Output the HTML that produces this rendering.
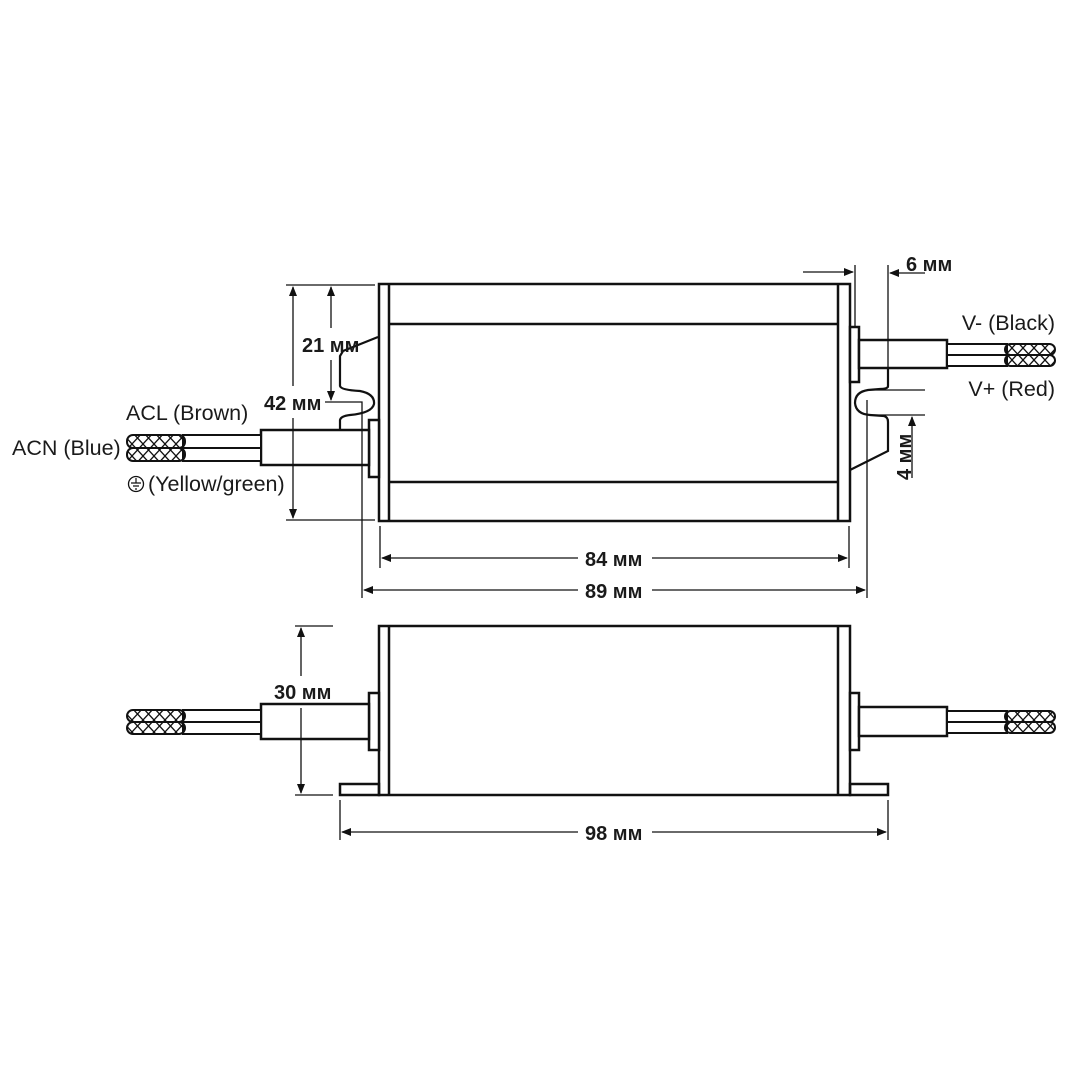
<!DOCTYPE html>
<html><head><meta charset="utf-8"><style>
html,body{margin:0;padding:0;background:#fff}
svg{display:block}
text{font-family:"Liberation Sans",Arial,sans-serif;fill:#1a1a1a}
.b{font-weight:bold;font-size:20px}
.l{font-size:21.5px}
</style></head><body>
<svg width="1080" height="1080" viewBox="0 0 1080 1080" xmlns="http://www.w3.org/2000/svg">
<defs>
<pattern id="x" x="0" y="0" width="11" height="12" patternUnits="userSpaceOnUse">
<path d="M0,0 L11,12 M11,0 L0,12" stroke="#111" stroke-width="1.3"/>
</pattern>
<marker id="a" markerWidth="10" markerHeight="8" refX="9" refY="4" orient="auto" markerUnits="userSpaceOnUse"><path d="M0,0 L10,4 L0,8 z" fill="#111"/></marker>
</defs>
<rect width="1080" height="1080" fill="#fff"/>
<g fill="none" stroke="#111" stroke-width="2.5">
<rect x="379" y="284" width="471" height="237"/>
<line x1="389" y1="284" x2="389" y2="521"/>
<line x1="838" y1="284" x2="838" y2="521"/>
<line x1="389" y1="324" x2="838" y2="324"/>
<line x1="389" y1="482" x2="838" y2="482"/>
<rect x="369" y="420" width="10" height="57" fill="#fff"/>
<rect x="261" y="430" width="108" height="35" fill="#fff"/>
<path d="M378,337 L343,351 L340,356 L340,386 Q341,390 360,391 Q375,394 374,404 Q372,413 350,415 Q341,416 340,420 L340,430" stroke-width="2.2"/>
<rect x="850" y="327" width="9" height="55" fill="#fff"/>
<rect x="859" y="340" width="88" height="28" fill="#fff"/>
<path d="M888,368 L888,386 Q888,389 880,389 L868,390 Q855,392 855,403 Q856,414 870,415 L884,416 Q888,417 888,422 L888,451 L850,470" stroke-width="2.2"/>
<rect x="379" y="626" width="471" height="169"/>
<line x1="389" y1="626" x2="389" y2="795"/>
<line x1="838" y1="626" x2="838" y2="795"/>
<rect x="340" y="784" width="39" height="11"/>
<rect x="850" y="784" width="38" height="11"/>
<rect x="369" y="693" width="10" height="57" fill="#fff"/>
<rect x="261" y="704" width="108" height="35" fill="#fff"/>
<rect x="850" y="693" width="9" height="57" fill="#fff"/>
<rect x="859" y="707" width="88" height="29" fill="#fff"/>
</g>
<g stroke="#111" stroke-width="2" fill="#fff">
<rect x="183" y="435" width="78" height="13"/><rect x="183" y="448" width="78" height="13"/>
<rect x="127" y="435" width="58" height="13" rx="6" fill="url(#x)"/><rect x="127" y="448" width="58" height="13" rx="6" fill="url(#x)"/>
<rect x="183" y="710" width="78" height="12"/><rect x="183" y="722" width="78" height="12"/>
<rect x="127" y="710" width="58" height="12" rx="6" fill="url(#x)"/><rect x="127" y="722" width="58" height="12" rx="6" fill="url(#x)"/>
<rect x="947" y="344" width="60" height="11"/><rect x="947" y="355" width="60" height="11"/>
<rect x="1005" y="344" width="50" height="11" rx="5.5" fill="url(#x)"/><rect x="1005" y="355" width="50" height="11" rx="5.5" fill="url(#x)"/>
<rect x="947" y="711" width="60" height="11"/><rect x="947" y="722" width="60" height="11"/>
<rect x="1005" y="711" width="50" height="11" rx="5.5" fill="url(#x)"/><rect x="1005" y="722" width="50" height="11" rx="5.5" fill="url(#x)"/>
</g>
<g stroke="#111" stroke-width="1.3" fill="none">
<line x1="286" y1="285" x2="375" y2="285"/>
<line x1="286" y1="520" x2="375" y2="520"/>
<line x1="293" y1="386" x2="293" y2="287" marker-end="url(#a)"/>
<line x1="293" y1="418" x2="293" y2="518" marker-end="url(#a)"/>
<line x1="331" y1="328" x2="331" y2="287" marker-end="url(#a)"/>
<line x1="331" y1="360" x2="331" y2="400" marker-end="url(#a)"/>
<polyline points="325,402 362,402 362,598"/>
<line x1="380" y1="526" x2="380" y2="568"/>
<line x1="849" y1="526" x2="849" y2="568"/>
<line x1="867" y1="400" x2="867" y2="598"/>
<line x1="888" y1="265" x2="888" y2="388"/>
<line x1="855" y1="265" x2="855" y2="327"/>
<line x1="578" y1="558" x2="382" y2="558" marker-end="url(#a)"/>
<line x1="652" y1="558" x2="847" y2="558" marker-end="url(#a)"/>
<line x1="578" y1="590" x2="364" y2="590" marker-end="url(#a)"/>
<line x1="652" y1="590" x2="865" y2="590" marker-end="url(#a)"/>
<line x1="803" y1="272" x2="853" y2="272" marker-end="url(#a)"/>
<line x1="925" y1="273" x2="890" y2="273" marker-end="url(#a)"/>
<line x1="867" y1="390" x2="925" y2="390"/>
<line x1="870" y1="415" x2="925" y2="415"/>
<line x1="912" y1="478" x2="912" y2="417" marker-end="url(#a)"/>
<line x1="295" y1="626" x2="333" y2="626"/>
<line x1="295" y1="795" x2="333" y2="795"/>
<line x1="301" y1="676" x2="301" y2="628" marker-end="url(#a)"/>
<line x1="301" y1="708" x2="301" y2="793" marker-end="url(#a)"/>
<line x1="340" y1="800" x2="340" y2="840"/>
<line x1="888" y1="800" x2="888" y2="840"/>
<line x1="578" y1="832" x2="342" y2="832" marker-end="url(#a)"/>
<line x1="652" y1="832" x2="886" y2="832" marker-end="url(#a)"/>
</g>
<text x="302" y="352" class="b">21 мм</text>
<text x="264" y="410" class="b">42 мм</text>
<text x="585" y="566" class="b">84 мм</text>
<text x="585" y="598" class="b">89 мм</text>
<text x="906" y="271" class="b">6 мм</text>
<text x="0" y="0" class="b" transform="translate(911,480) rotate(-90)">4 мм</text>
<text x="274" y="699" class="b">30 мм</text>
<text x="585" y="840" class="b">98 мм</text>
<text x="126" y="420" class="l">ACL (Brown)</text>
<text x="12" y="455" class="l">ACN (Blue)</text>
<circle cx="136" cy="484" r="7.5" fill="none" stroke="#111" stroke-width="1.3"/>
<path d="M136,478 V483 M131,483 H141 M133,486 H139 M135,489 H137" stroke="#111" stroke-width="1.2"/>
<text x="148" y="491" class="l">(Yellow/green)</text>
<text x="1055" y="330" class="l" text-anchor="end">V- (Black)</text>
<text x="1055" y="396" class="l" text-anchor="end">V+ (Red)</text>
</svg>
</body></html>
